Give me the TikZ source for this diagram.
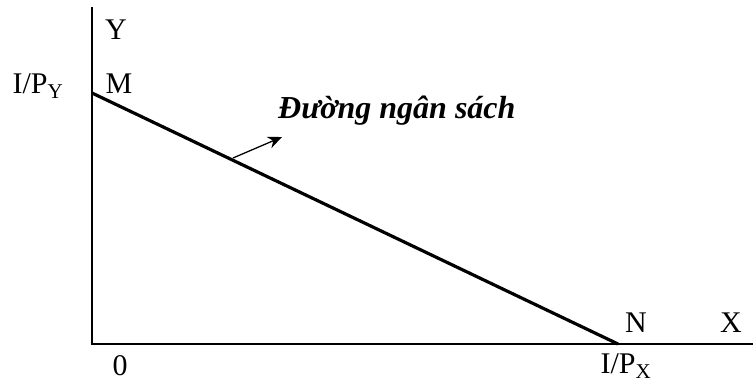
\documentclass[tikz,border=0pt]{standalone}
\usepackage{fontspec}
\setmainfont{Liberation Serif}
\usetikzlibrary{arrows.meta}

\begin{document}
\begin{tikzpicture}[
  x=1pt, y=-1pt,
  axis/.style={line width=2pt},
  budget/.style={line width=3.2pt},
  lbl/.style={inner sep=0pt, font=\fontsize{30}{32}\selectfont},
  title/.style={inner sep=0pt, anchor=base west, font=\fontsize{32}{34}\selectfont\bfseries\itshape},
  arrow/.style={-{Stealth[length=14pt, width=12pt]}, line width=1.3pt}
]
\useasboundingbox (0,0) rectangle (755,386);

\coordinate (O) at (92,344);
\coordinate (ytop) at (92,7);
\coordinate (xend) at (753,344);
\coordinate (M) at (92,93);
\coordinate (N) at (618,344);

\draw[axis] (ytop) -- (O) -- (xend);
\draw[budget] (M) -- (N);

\node[lbl] (ylab) at (116,30) {Y};
\node[lbl] (mlab) at (119,84) {M};
\node[lbl, anchor=base] (ipy) at (38,93) {I/P\textsubscript{Y}};
\node[lbl] (nlab) at (636,323) {N};
\node[lbl] (xlab) at (731,323) {X};
\node[lbl, anchor=base] (ipx) at (626,373) {I/P\textsubscript{X}};
\node[lbl] (zero) at (120,366) {0};

\node[title] (bline) at (278,118) {Đường ngân sách};
\coordinate (tail) at (233,158);
\coordinate (head) at (282,137);
\draw[arrow] (tail) -- (head);

\end{tikzpicture}
\end{document}
